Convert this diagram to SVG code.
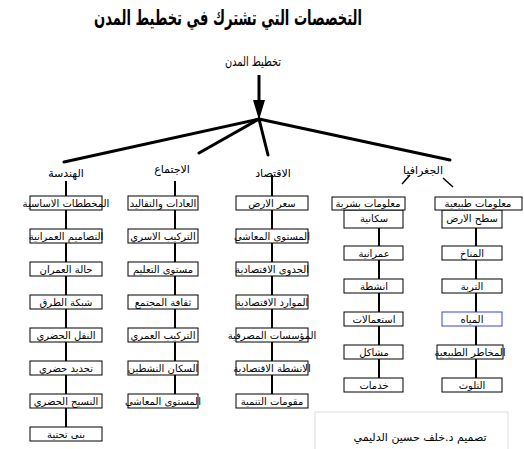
<svg xmlns="http://www.w3.org/2000/svg" width="524" height="449" viewBox="0 0 524 449">
<style>
text{font-family:"DejaVu Sans",sans-serif;fill:#000;text-anchor:middle}
.t{font-size:21px;font-weight:bold}
.h{font-size:11px}
.b{font-size:10px}
.box{fill:#fff;stroke:#000;stroke-width:1}
.hub{stroke:#000;stroke-width:3;fill:none;stroke-linecap:round}
.col{stroke:#000;stroke-width:2;fill:none}
.thin{stroke:#000;stroke-width:1.5;fill:none}
</style>
<rect width="524" height="449" fill="#fff"/>
<text class="t" x="228" y="25" textLength="268" lengthAdjust="spacingAndGlyphs">التخصصات التي تشترك في تخطيط المدن</text>
<g id="root"><text x="253" y="66" style="font-size:13px" textLength="56" lengthAdjust="spacingAndGlyphs">تخطيط المدن</text></g>
<g id="connectors">
<line x1="259" y1="75" x2="259" y2="102" stroke="#000" stroke-width="3"/>
<polygon points="253,100 265,100 259,120" fill="#000"/>
<line class="hub" x1="259" y1="119" x2="64" y2="162"/>
<line class="hub" x1="259" y1="119" x2="199" y2="153"/>
<line class="hub" x1="259" y1="119" x2="268" y2="155"/>
<line class="hub" x1="259" y1="119" x2="450" y2="160"/>
<line class="col" x1="66" y1="181" x2="66" y2="428"/>
<line class="col" x1="175" y1="181" x2="175" y2="395"/>
<line class="col" x1="272" y1="175" x2="272" y2="395"/>
<line class="thin" x1="410" y1="175" x2="402" y2="184"/>
<line class="thin" x1="443" y1="178" x2="453" y2="187"/>
<line class="col" x1="379" y1="228" x2="379" y2="379"/>
<line class="col" x1="476" y1="228" x2="476" y2="379"/>
</g>
<g id="n-eng"><text class="h" x="66" y="177">الهندسة</text></g>
<g id="n-soc"><text class="h" x="172" y="173">الاجتماع</text></g>
<g id="n-eco"><text class="h" x="273" y="177">الاقتصاد</text></g>
<g id="n-geo"><text class="h" x="423" y="174">الجغرافيا</text></g>
<g id="c1">
<g id="e1"><rect class="box" x="30" y="196" width="72" height="14"/><text class="b" x="66" y="206.5">المخططات الاساسية</text></g>
<g id="e2"><rect class="box" x="30" y="229" width="72" height="14"/><text class="b" x="66" y="239.5">التصاميم العمرانية</text></g>
<g id="e3"><rect class="box" x="30" y="262" width="72" height="14"/><text class="b" x="66" y="272.5">حالة العمران</text></g>
<g id="e4"><rect class="box" x="30" y="295" width="72" height="14"/><text class="b" x="66" y="305.5">شبكة الطرق</text></g>
<g id="e5"><rect class="box" x="30" y="328" width="72" height="14"/><text class="b" x="66" y="338.5">النقل الحضري</text></g>
<g id="e6"><rect class="box" x="30" y="361" width="72" height="14"/><text class="b" x="66" y="371.5">تجديد حضري</text></g>
<g id="e7"><rect class="box" x="30" y="394" width="72" height="14"/><text class="b" x="66" y="404.5">النسيج الحضري</text></g>
<g id="e8"><rect class="box" x="30" y="427" width="72" height="14"/><text class="b" x="66" y="437.5">بنى تحتية</text></g>
</g>
<g id="c2">
<g id="s1"><rect class="box" x="128" y="196" width="70" height="14"/><text class="b" x="163" y="206.5">العادات والتقاليد</text></g>
<g id="s2"><rect class="box" x="128" y="229" width="70" height="14"/><text class="b" x="163" y="239.5">التركيب الاسري</text></g>
<g id="s3"><rect class="box" x="128" y="262" width="70" height="14"/><text class="b" x="163" y="272.5">مستوى التعليم</text></g>
<g id="s4"><rect class="box" x="128" y="295" width="70" height="14"/><text class="b" x="163" y="305.5">ثقافة المجتمع</text></g>
<g id="s5"><rect class="box" x="128" y="328" width="70" height="14"/><text class="b" x="163" y="338.5">التركيب العمري</text></g>
<g id="s6"><rect class="box" x="128" y="361" width="70" height="14"/><text class="b" x="163" y="371.5">السكان النشطين</text></g>
<g id="s7"><rect class="box" x="128" y="394" width="70" height="14"/><text class="b" x="163" y="404.5">المستوى المعاشي</text></g>
</g>
<g id="c3">
<g id="k1"><rect class="box" x="236" y="196" width="72" height="14"/><text class="b" x="272" y="206.5">سعر الارض</text></g>
<g id="k2"><rect class="box" x="236" y="229" width="72" height="14"/><text class="b" x="272" y="239.5">المستوى المعاشي</text></g>
<g id="k3"><rect class="box" x="236" y="262" width="72" height="14"/><text class="b" x="272" y="272.5">الجدوى الاقتصادية</text></g>
<g id="k4"><rect class="box" x="236" y="295" width="72" height="14"/><text class="b" x="272" y="305.5">الموارد الاقتصادية</text></g>
<g id="k5"><rect class="box" x="236" y="328" width="72" height="14"/><text class="b" x="272" y="338.5">المؤسسات المصرفية</text></g>
<g id="k6"><rect class="box" x="236" y="361" width="72" height="14"/><text class="b" x="272" y="371.5">الانشطة الاقتصادية</text></g>
<g id="k7"><rect class="box" x="236" y="394" width="72" height="14"/><text class="b" x="272" y="404.5">مقومات التنمية</text></g>
</g>
<g id="c4">
<g id="g1"><rect class="box" x="344" y="210" width="59" height="18"/><text class="b" x="374" y="222">سكانية</text></g>
<g id="hb"><rect class="box" x="332" y="197" width="73" height="13"/><text class="b" x="368" y="207">معلومات بشرية</text></g>
<g id="g2"><rect class="box" x="344" y="246" width="59" height="14"/><text class="b" x="374" y="256.5">عمرانية</text></g>
<g id="g3"><rect class="box" x="344" y="279" width="59" height="14"/><text class="b" x="374" y="289.5">انشطة</text></g>
<g id="g4"><rect class="box" x="344" y="312" width="59" height="14"/><text class="b" x="374" y="322.5">استعمالات</text></g>
<g id="g5"><rect class="box" x="344" y="345" width="59" height="14"/><text class="b" x="374" y="355.5">مشاكل</text></g>
<g id="g6"><rect class="box" x="344" y="378" width="59" height="14"/><text class="b" x="374" y="388.5">خدمات</text></g>
</g>
<g id="c5">
<g id="p1"><rect class="box" x="442" y="210" width="60" height="18"/><text class="b" x="472" y="222">سطح الارض</text></g>
<g id="hp"><rect class="box" x="435" y="197" width="87" height="13"/><text class="b" x="478" y="207">معلومات طبيعية</text></g>
<g id="p2"><rect class="box" x="442" y="246" width="60" height="14"/><text class="b" x="472" y="256.5">المناخ</text></g>
<g id="p3"><rect class="box" x="442" y="279" width="60" height="14"/><text class="b" x="472" y="289.5">التربة</text></g>
<g id="p4"><rect class="box" x="442" y="312" width="60" height="14" style="stroke:#3344dd"/><text class="b" x="472" y="322.5">المياه</text></g>
<g id="p5"><rect class="box" x="437" y="345" width="66" height="14"/><text class="b" x="470" y="355.5">المخاطر الطبيعية</text></g>
<g id="p6"><rect class="box" x="442" y="378" width="60" height="14"/><text class="b" x="472" y="388.5">التلوث</text></g>
</g>
<g id="credit">
<rect x="315" y="412" width="193" height="50" fill="none" stroke="#ddd" stroke-width="1"/>
<text x="420" y="441" style="font-size:11px">تصميم د.خلف حسين الدليمي</text>
</g>
</svg>
